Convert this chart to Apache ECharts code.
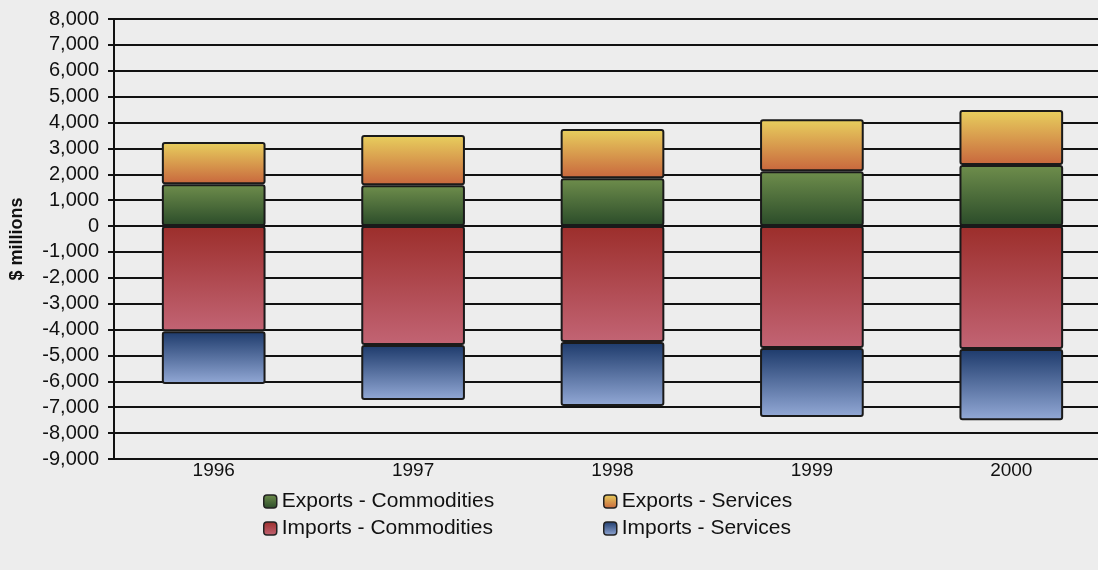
<!DOCTYPE html>
<html>
<head>
<meta charset="utf-8">
<script src="https://cdn.jsdelivr.net/npm/echarts@6/dist/echarts.min.js"></script>
<style>
  html, body { margin: 0; padding: 0; background: #ededed; overflow: hidden; }
  /* plot runs past the right edge in the original, so the canvas is a bit wider than the window */
  #chart { width: 1111px; height: 570px; }
</style>
</head>
<body>
<div id="chart"></div>
<script>
var years = ['1996', '1997', '1998', '1999', '2000'];
var exportsCommodities = [1620, 1580, 1850, 2120, 2360];
var exportsServices = [1630, 1940, 1900, 2010, 2120];
var importsCommodities = [-4060, -4600, -4480, -4710, -4750];
var importsServices = [-2040, -2120, -2470, -2670, -2750];
var yTicks = { min: -9000, max: 8000, step: 1000 };

// vertical gradients, top colour first
function grad(top, bottom) {
  return new echarts.graphic.LinearGradient(0, 0, 0, 1, [
    { offset: 0, color: top },
    { offset: 1, color: bottom }
  ]);
}

var colGreen = grad('#6f8e4c', '#2a4b29');
var colOrange = grad('#e8d05e', '#c8663d');
var colRed = grad('#9c2e2b', '#c26474');
var colBlue = grad('#1d3a6b', '#93a9d6');

var barStyle = function (c) {
  return { color: c, borderColor: '#1a1a1a', borderWidth: 2, borderRadius: 2 };
};

var chart = echarts.init(document.getElementById('chart'));

var legendText = { fontFamily: 'Liberation Sans', fontSize: 21, lineHeight: 21, color: '#111' };
var legendIcon = { borderColor: '#222', borderWidth: 1.5 };

chart.setOption({
  backgroundColor: '#ededed',
  animation: false,
  textStyle: { fontFamily: 'Liberation Sans' },
  grid: { left: 114, top: 19, right: 0, height: 440 },
  legend: [
    {
      orient: 'vertical', left: 258, top: 486, itemGap: 6,
      icon: 'roundRect', itemWidth: 13, itemHeight: 13,
      textStyle: legendText,
      data: [
        { name: 'Exports - Commodities', itemStyle: legendIcon },
        { name: 'Imports - Commodities', itemStyle: legendIcon }
      ]
    },
    {
      orient: 'vertical', left: 598, top: 486, itemGap: 6,
      icon: 'roundRect', itemWidth: 13, itemHeight: 13,
      textStyle: legendText,
      data: [
        { name: 'Exports - Services', itemStyle: legendIcon },
        { name: 'Imports - Services', itemStyle: legendIcon }
      ]
    }
  ],
  xAxis: {
    type: 'category',
    data: years,
    axisLine: { onZero: false, show: false },
    axisTick: { show: false },
    axisLabel: { fontSize: 19, color: '#111', margin: 2, fontFamily: 'Liberation Sans' }
  },
  yAxis: {
    type: 'value',
    min: yTicks.min,
    max: yTicks.max,
    interval: yTicks.step,
    name: '$ millions',
    nameLocation: 'middle',
    nameRotate: 90,
    nameGap: 88,
    nameTextStyle: { fontFamily: 'Liberation Sans', fontWeight: 'bold', fontSize: 18, color: '#111' },
    axisLine: { show: true, lineStyle: { color: '#111', width: 2 } },
    axisTick: { show: true, length: 6, lineStyle: { color: '#111', width: 2 } },
    splitLine: { show: true, lineStyle: { color: '#111', width: 2 } },
    axisLabel: {
      fontSize: 20, color: '#111', margin: 15, fontFamily: 'Liberation Sans',
      formatter: function (v) { return echarts.format.addCommas(v); }
    }
  },
  series: [
    { name: 'Exports - Commodities', type: 'bar', stack: 'all', barWidth: '52%',
      itemStyle: barStyle(colGreen), data: exportsCommodities },
    { name: 'Exports - Services', type: 'bar', stack: 'all', barWidth: '52%',
      itemStyle: barStyle(colOrange), data: exportsServices },
    { name: 'Imports - Commodities', type: 'bar', stack: 'all', barWidth: '52%',
      itemStyle: barStyle(colRed), data: importsCommodities },
    { name: 'Imports - Services', type: 'bar', stack: 'all', barWidth: '52%',
      itemStyle: barStyle(colBlue), data: importsServices }
  ]
});
</script>
</body>
</html>
